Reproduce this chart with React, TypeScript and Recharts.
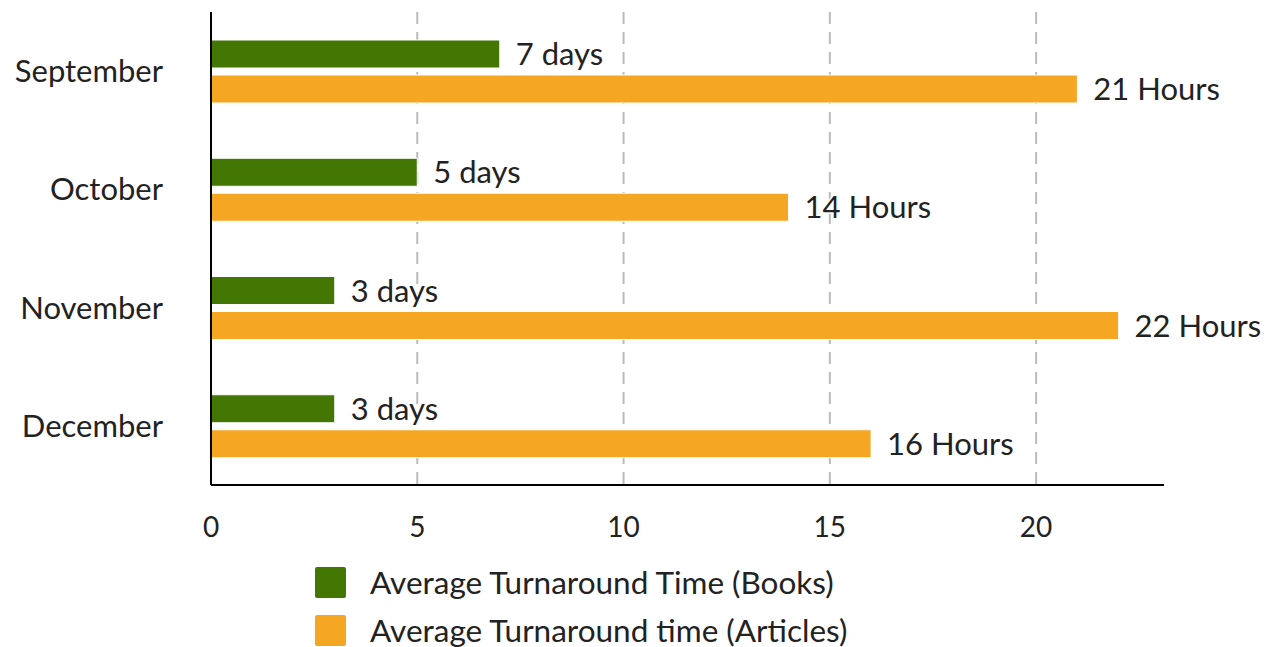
import React from "react";
import { BarChart, Bar, XAxis, YAxis, CartesianGrid, LabelList, Legend } from "recharts";

const months = ["September", "October", "November", "December"];
const booksDays = [7, 5, 3, 3];
const articlesHours = [21, 14, 22, 16];
const xTicks = [0, 5, 10, 15, 20];
const gridTicks = [5, 10, 15, 20];
const seriesNames = ["Average Turnaround Time (Books)", "Average Turnaround time (Articles)"];
const seriesColors = ["#447604", "#F5A623"];

const data = months.map((m, i) => ({ month: m, books: booksDays[i], articles: articlesHours[i] }));

const FONT = "Lato, 'Open Sans', sans-serif";
const X_MAX = 23.1;

const LegendContent = () => (
  <div style={{ fontFamily: FONT }}>
    {seriesNames.map((n, i) => (
      <div key={n} style={{ display: "flex", alignItems: "center", height: 48 }}>
        <div style={{ width: 31, height: 31, background: seriesColors[i], borderRadius: 2, marginRight: 24 }} />
        <span style={{ fontSize: 31.5, color: "#222", lineHeight: "48px" }}>{n}</span>
      </div>
    ))}
  </div>
);

const labelStyle = { fontSize: 31, fill: "#222", fontFamily: FONT, stroke: "#fff", strokeWidth: 3, paintOrder: "stroke" as const };

export default function App() {
  return (
    <div style={{ position: "absolute", left: 0, top: 0, width: 1271, height: 647, background: "#fff" }}>
      <BarChart
        width={1271}
        height={647}
        data={data}
        layout="vertical"
        margin={{ top: 12, right: 107, bottom: 0, left: 0 }}
        barSize={28}
        barGap={7}
      >
        <CartesianGrid
          horizontal={false}
          stroke="#bbb"
          strokeWidth={2}
          strokeDasharray="12 8"
          verticalCoordinatesGenerator={({ offset }: any) =>
            gridTicks.map((t) => offset.left + (t / X_MAX) * offset.width)
          }
        />
        <XAxis
          type="number"
          domain={[0, X_MAX]}
          ticks={xTicks}
          axisLine={{ stroke: "#000", strokeWidth: 2 }}
          tickLine={false}
          tickSize={0}
          tickMargin={32}
          height={66}
          tick={{ fontSize: 28, fill: "#222", fontFamily: FONT }}
        />
        <YAxis
          type="category"
          dataKey="month"
          width={211}
          axisLine={{ stroke: "#000", strokeWidth: 2 }}
          tickLine={false}
          tickSize={0}
          tickMargin={48}
          tick={{ fontSize: 31, fill: "#222", fontFamily: FONT }}
        />
        <Legend
          content={<LegendContent />}
          wrapperStyle={{ position: "absolute", left: 315, top: 558, width: 700, height: 96 }}
        />
        <Bar dataKey="books" name={seriesNames[0]} fill={seriesColors[0]} stroke="#fff" strokeWidth={1} isAnimationActive={false}>
          <LabelList dataKey="books" position="right" offset={16} formatter={(v: any) => `${v} days`} style={labelStyle} />
        </Bar>
        <Bar dataKey="articles" name={seriesNames[1]} fill={seriesColors[1]} stroke="#fff" strokeWidth={1} isAnimationActive={false}>
          <LabelList dataKey="articles" position="right" offset={16} formatter={(v: any) => `${v} Hours`} style={labelStyle} />
        </Bar>
      </BarChart>
    </div>
  );
}
